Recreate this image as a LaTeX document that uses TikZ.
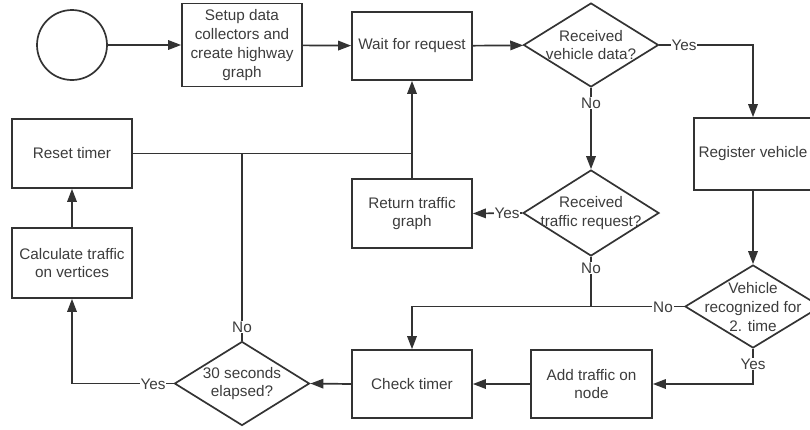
\documentclass[tikz,border=0pt]{standalone}
\usepackage{fontspec}
\setmainfont{Liberation Sans}
\usetikzlibrary{arrows.meta,shapes.geometric}
\definecolor{ink}{HTML}{333333}
\definecolor{txt}{HTML}{3C3C3C}

\begin{document}
\begin{tikzpicture}[x=1pt,y=-1pt,
  font=\fontsize{15.3}{18.7}\selectfont,
  every node/.style={text=txt},
  proc/.style={draw=ink, line width=1.7pt, rectangle, minimum width=120pt,
    minimum height=69pt, align=center, inner sep=0pt},
  dec/.style={draw=ink, line width=1.7pt, diamond, minimum width=135pt,
    minimum height=84pt, inner sep=0pt},
  dtext/.style={align=center, inner sep=0pt, text=txt},
  flow/.style={draw=ink, line width=1.7pt, -{Triangle[length=13pt,width=9.5pt]}},
  wire/.style={draw=ink, line width=1.7pt},
  lbl/.style={fill=white, inner sep=1pt},
]
\useasboundingbox (0,0) rectangle (810,429);

% start and process boxes
\node[draw=ink, line width=1.7pt, circle, minimum size=70pt, inner sep=0pt] (start) at (72,45) {};
\node[proc, minimum height=83pt] (setup) at (242,45) {Setup data\\collectors and\\create highway\\graph};
\node[proc, minimum height=68pt] (wait) at (412,46) {Wait for request};
\node[proc, minimum width=118pt, minimum height=72pt] (reg) at (753,154) {Register vehicle};
\node[proc] (reset) at (72,153.5) {Reset timer};
\node[proc, minimum height=70pt] (calc) at (72,263) {Calculate traffic\\on vertices};
\node[proc] (ret) at (412,213.5) {Return traffic\\graph};
\node[proc, minimum height=68pt] (check) at (412,384) {Check timer};
\node[proc, minimum width=121pt, minimum height=68pt] (add) at (591.5,384) {Add traffic on\\node};

% decisions
\node[dec, label={[dtext]center:{Received\\vehicle data?}}] (d1) at (591,45) {};
\node[dec, minimum width=136pt, minimum height=86pt,
  label={[dtext]center:{Received\\traffic request?}}] (d2) at (591,213) {};
\node[dec, minimum width=136pt, minimum height=83pt,
  label={[dtext, yshift=-0.5pt]center:{Vehicle\\recognized for\\2. time}}] (d3) at (753,306.5) {};
\node[dec, label={[dtext]center:{30 seconds\\elapsed?}}] (d4) at (242,383.5) {};

% main flow
\draw[flow] (start) -- (setup);
\draw[flow] (setup) -- (wait);
\draw[flow] (wait) -- (d1);
\draw[flow] (d1.east) -| (reg.north);
\draw[flow] (d1.south) -- (d2.north);
\draw[flow] (d2.west) -- (ret.east);
\draw[flow] (reg.south) -- (d3.north);
\draw[flow] (d3.south) |- (add.east);
\draw[flow] (add.west) -- (check.east);
\draw[flow] (check.west) -- (d4.east);
\draw[flow] (d4.west) -| (calc.south);
\draw[flow] (calc.north) -- (reset.south);

% merge of the "No" branches into Check timer
\coordinate (j) at (d2.south |- d3.west);
\draw[wire] (d2.south) -- (j);
\draw[wire] (d3.west) -- (j);
\draw[flow] (j) -| (check.north);

% return paths to Wait for request
\coordinate (k) at (wait.south |- reset.east);
\draw[wire] (reset.east) -- (k);
\draw[wire] (d4.north) -- (d4.north |- reset.east);
\draw[flow] (ret.north) -- (wait.south);

% branch labels
\node[lbl] (y1) at (684,45) {Yes};
\node[lbl] (n1) at (591,103) {No};
\node[lbl] (y2) at (507,213) {Yes};
\node[lbl] (n2) at (591,268) {No};
\node[lbl] (n3) at (663,307) {No};
\node[lbl] (y3) at (753,364) {Yes};
\node[lbl] (y4) at (153,384) {Yes};
\node[lbl] (n4) at (242,327) {No};
\end{tikzpicture}
\end{document}
